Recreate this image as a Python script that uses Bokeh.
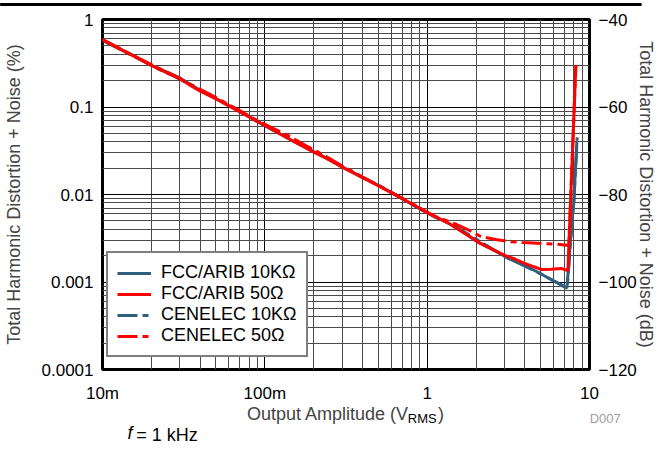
import math
from bokeh.plotting import figure
from bokeh.models import (Range1d, LinearAxis, LinearScale, FixedTicker, CustomJSTickFormatter,
                          Label, Legend, LegendItem)
from bokeh.embed import file_html
from bokeh.resources import INLINE

# ---------------- data (Output amplitude in V_RMS, THD+N in %) ----------------
fcc10k_v = [0.01, 0.012, 0.015, 0.02, 0.025, 0.03, 0.035, 0.04, 0.05, 0.065, 0.08, 0.1,
            0.13, 0.16, 0.2, 0.24, 0.3, 0.4, 0.5, 0.65, 0.87, 1.0, 1.38, 1.7, 2.1, 2.7,
            3.2, 3.8, 4.5, 5.3, 6.2, 6.9, 7.25, 7.46, 7.8, 8.0, 8.36]
fcc10k_thd = [0.58, 0.49, 0.40, 0.30, 0.25, 0.215, 0.18, 0.155, 0.125, 0.096, 0.078, 0.061,
              0.047, 0.038, 0.031, 0.026, 0.0207, 0.0157, 0.0127, 0.0097, 0.0071, 0.0062,
              0.0046, 0.0036, 0.0028, 0.0022, 0.00184, 0.0016, 0.00138, 0.00117, 0.00100,
              0.00089, 0.00085, 0.0016, 0.0055, 0.0079, 0.041]

fcc50_v = [0.01, 0.012, 0.015, 0.02, 0.025, 0.03, 0.035, 0.04, 0.05, 0.065, 0.08, 0.1,
           0.13, 0.16, 0.2, 0.24, 0.3, 0.4, 0.5, 0.65, 0.87, 1.0, 1.38, 1.7, 2.1, 2.6,
           3.03, 3.5, 3.84, 4.3, 5.07, 5.8, 6.68, 7.36, 8.24]
fcc50_thd = [0.59, 0.49, 0.395, 0.298, 0.245, 0.21, 0.175, 0.152, 0.124, 0.095, 0.077, 0.0615,
             0.047, 0.038, 0.0305, 0.0258, 0.0205, 0.0156, 0.0126, 0.0097, 0.0072, 0.0062,
             0.0046, 0.0036, 0.0028, 0.0023, 0.0020, 0.00182, 0.00168, 0.00155, 0.00139,
             0.0014, 0.00143, 0.00135, 0.30]

cen10k_v = [0.01, 0.013, 0.017, 0.022, 0.028, 0.035, 0.045, 0.055, 0.07, 0.09, 0.11, 0.14,
            0.18, 0.23, 0.3, 0.4, 0.5, 0.65, 0.87, 1.1, 1.5, 2.0, 2.6, 3.2, 4.0, 5.0, 6.0,
            7.0, 7.3, 7.6, 8.0, 8.4]
cen10k_thd = [0.58, 0.45, 0.35, 0.272, 0.222, 0.18, 0.14, 0.114, 0.089, 0.068, 0.056, 0.045,
              0.0355, 0.0278, 0.021, 0.0157, 0.0128, 0.0098, 0.0071, 0.0056, 0.0043, 0.0031,
              0.0023, 0.00186, 0.00152, 0.00124, 0.00103, 0.0009, 0.00088, 0.0025, 0.008, 0.045]

cen50_v = [0.01, 0.013, 0.017, 0.022, 0.028, 0.035, 0.045, 0.055, 0.07, 0.09, 0.11, 0.14,
           0.18, 0.23, 0.3, 0.4, 0.5, 0.65, 0.87, 1.1, 1.52, 1.82, 2.14, 2.64, 3.2, 3.84,
           4.5, 5.28, 6.3, 7.46, 8.24]
cen50_thd = [0.59, 0.46, 0.355, 0.28, 0.225, 0.18, 0.142, 0.116, 0.091, 0.07, 0.058, 0.047,
             0.036, 0.0282, 0.0212, 0.0158, 0.0127, 0.0098, 0.0073, 0.0057, 0.00454, 0.00388,
             0.00331, 0.00306, 0.0029, 0.00283, 0.00279, 0.00275, 0.0027, 0.00261, 0.30]

series_labels = ["FCC/ARIB 10K\u03a9", "FCC/ARIB 50\u03a9", "CENELEC 10K\u03a9", "CENELEC 50\u03a9"]
db_ticks = [-120, -100, -80, -60, -40]

FONT = "Liberation Sans"
BLUE = "#31607F"
RED = "#FF0000"
DASH = "20 5 6 5"
NB = "\u00a0"

W, H = 658, 449
p = figure(width=W, height=H, x_axis_type="log", y_axis_type="log",
           x_range=Range1d(0.01, 10), y_range=Range1d(0.0001, 1),
           output_backend="svg", toolbar_location=None,
           min_border_left=98, min_border_right=62, min_border_top=19, min_border_bottom=80)
p.extra_y_ranges = {"db": Range1d(-120, -40)}
p.extra_y_scales = {"db": LinearScale()}
# helper range (frame pixels) used only to place the texts under the frame
p.extra_x_ranges = {"px": Range1d(98, 596)}
p.extra_x_scales = {"px": LinearScale()}

p.outline_line_color = "black"
p.outline_line_width = 3
p.outline_line_alpha = 1


def plain_axis(ax, size="17px"):
    ax.axis_line_color = None
    ax.major_tick_line_color = None
    ax.minor_tick_line_color = None
    ax.major_tick_out = 0
    ax.major_tick_in = 0
    ax.minor_tick_out = 0
    ax.minor_tick_in = 0
    ax.major_label_text_font = FONT
    ax.major_label_text_font_size = size
    ax.major_label_text_color = "black"


xax = p.xaxis[0]
yax = p.yaxis[0]
for ax in (xax, yax):
    ax.ticker.num_minor_ticks = 10
    plain_axis(ax)

xax.formatter = CustomJSTickFormatter(
    code="return tick >= 1 ? tick.toFixed(0) : (tick*1000).toFixed(0) + 'm';")
yax.formatter = CustomJSTickFormatter(
    code="return tick >= 1 ? '1' : tick.toFixed(Math.round(-Math.log10(tick)));")
xax.major_label_standoff = 14
yax.major_label_standoff = 9

yax.axis_label = "Total Harmonic Distortion + Noise (%)"
yax.axis_label_text_font = FONT
yax.axis_label_text_font_size = "18px"
yax.axis_label_text_font_style = "normal"
yax.axis_label_standoff = 15

xax.axis_label = "Output Amplitude (V" + NB * 6 + ")"
xax.axis_label_text_font = FONT
xax.axis_label_text_font_size = "18px"
xax.axis_label_text_font_style = "normal"
xax.axis_label_standoff = -2

rax = LinearAxis(y_range_name="db", ticker=FixedTicker(ticks=db_ticks))
plain_axis(rax)
rax.major_label_standoff = 9
rax.axis_label = "Total Harmonic Distortion + Noise (dB)"
rax.axis_label_text_font = FONT
rax.axis_label_text_font_size = "18px"
rax.axis_label_text_font_style = "normal"
rax.axis_label_standoff = -4
p.add_layout(rax, "right")


def text_axis(text, xc, standoff, size, color="black", style="normal"):
    ax = LinearAxis(x_range_name="px", ticker=FixedTicker(ticks=[xc], minor_ticks=[]),
                    formatter=CustomJSTickFormatter(args={"t": text}, code="return t;"))
    plain_axis(ax, size)
    ax.major_label_text_color = color
    ax.major_label_text_font_style = style
    ax.major_label_standoff = standoff
    p.add_layout(ax, "below")


text_axis("RMS", 425, -16, "13px")
text_axis("f", 126, -6, "18px", style="italic")
text_axis("= 1 kHz", 164, -21, "18px")
text_axis(NB * 9 + "D007", 595.5, -37, "13px", color="#a0a0a0")

# thin rule across the top of the picture (overlapping pieces)
for x0, n in ((0, 420), (209, 420), (418, 446)):
    p.add_layout(Label(text=NB * n, x=x0, y=3, x_units="canvas", y_units="canvas",
                       text_font=FONT, text_font_size="1.8px", text_baseline="top",
                       background_fill_color="black", background_fill_alpha=1,
                       border_line_color="black", border_line_width=1), "above")

# grid
for g in (p.xgrid[0], p.ygrid[0]):
    g.grid_line_color = "#000000"
    g.grid_line_width = 1
    g.grid_line_alpha = 1
    g.minor_grid_line_color = "#4a4a4a"
    g.minor_grid_line_width = 1
    g.minor_grid_line_alpha = 1

# lines
r1 = p.line(fcc10k_v, fcc10k_thd, line_color=BLUE, line_width=3)
r3 = p.line(cen10k_v, cen10k_thd, line_color=BLUE, line_width=3, line_dash=DASH)
r2 = p.line(fcc50_v, fcc50_thd, line_color=RED, line_width=3)
r4 = p.line(cen50_v, cen50_thd, line_color=RED, line_width=3, line_dash=DASH)

legend = Legend(items=[LegendItem(label=series_labels[0], renderers=[r1]),
                       LegendItem(label=series_labels[1], renderers=[r2]),
                       LegendItem(label=series_labels[2], renderers=[r3]),
                       LegendItem(label=series_labels[3], renderers=[r4])],
                location=(4, 12))
legend.label_text_font = FONT
legend.label_text_font_size = "18px"
legend.label_text_color = "black"
legend.border_line_color = "black"
legend.border_line_width = 2
legend.background_fill_color = "white"
legend.background_fill_alpha = 1
legend.padding = 9
legend.spacing = 0
legend.margin = 0
legend.glyph_width = 34
legend.glyph_height = 20
legend.label_height = 20
legend.label_standoff = 10
p.add_layout(legend, "center")

open("out.html", "w").write(file_html(p, INLINE))
